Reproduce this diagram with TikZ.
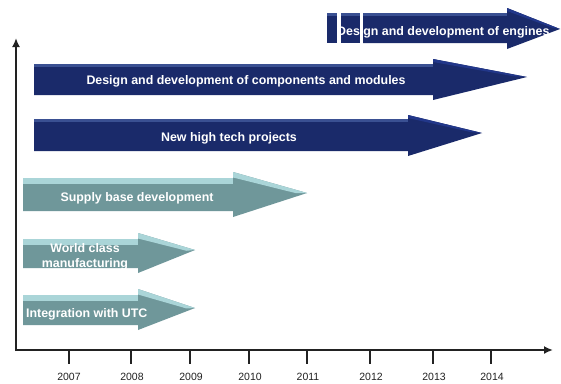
\documentclass[tikz,border=0pt]{standalone}
\usepackage{fontspec}
\setmainfont{Liberation Sans}
\usetikzlibrary{arrows.meta,calc}
\definecolor{navymain}{HTML}{1A2A6A}
\definecolor{navytop}{HTML}{3A5092}
\definecolor{navyhead}{HTML}{22378A}
\definecolor{tealmain}{HTML}{6F979A}
\definecolor{tealtop}{HTML}{AAD5D8}
\definecolor{tealhead}{HTML}{AAD5D8}
\definecolor{axisgray}{HTML}{222222}
\tikzset{
  bartext/.style={text=white, font=\fontsize{12.4}{14}\selectfont\bfseries, inner sep=0pt},
  yearlabel/.style={text=axisgray, font=\fontsize{10.5}{12}\selectfont, inner sep=0pt},
  axisline/.style={line width=2.2pt, draw=axisgray, -{Latex[length=9pt,width=8pt]}},
  tickline/.style={line width=2.4pt, draw=axisgray},
}
% thickness of the lit top face of a block arrow
\def\bevel{3}
% block arrow: left, shaft top, shaft bottom, head start, head top, head bottom, tip x, tip y, colour prefix
\newcommand\bararrow[9]{%
  \fill[#9main] (#1,#2) -- (#4,#2) -- (#4,#5) -- (#7,#8) -- (#4,#6) -- (#4,#3) -- (#1,#3) -- cycle;
  \fill[#9top] (#1,#2) -- (#4,#2) -- (#4,#2+\bevel) -- (#1,#2+\bevel) -- cycle;
  \fill[#9head] (#4,#5) -- (#7,#8) -- ($(#4,#5)!0.85!(#7,#8)+(0,\bevel*0.6)$) -- (#4,#5+\bevel) -- cycle;
}
\begin{document}
\begin{tikzpicture}[x=1pt,y=-1pt]
\useasboundingbox (0,0) rectangle (561,383);
\fill[white] (0,0) rectangle (561,383);

% engines: two short blocks and the long arrow
\fill[navymain] (327,13) rectangle (337,43);
\fill[navytop] (327,13) rectangle (337,16);
\fill[navymain] (341,13) rectangle (360,43);
\fill[navytop] (341,13) rectangle (360,16);
\bararrow{363}{13}{43}{507}{8}{49}{560}{29}{navy}
\node[bartext, anchor=west] (engines) at (337,32) {Design and development of engines};

% components and modules
\bararrow{34}{64}{95}{433}{59}{100}{527}{77}{navy}
\node[bartext] (components) at (246,81) {Design and development of components and modules};

% new high tech projects
\bararrow{34}{119}{151}{408}{115}{156}{482}{133}{navy}
\node[bartext] (hightech) at (229,138) {New high tech projects};

\def\bevel{5.5}
% supply base development
\bararrow{23}{178}{211}{233}{172}{217}{307}{193}{teal}
\node[bartext] (supply) at (137,198) {Supply base development};

% world class manufacturing
\bararrow{23}{239}{268}{138}{233}{273}{195}{250}{teal}
\node[bartext, align=center] (worldclass) at (85,257) {World class\\[1pt]manufacturing};

% integration with UTC
\bararrow{23}{295}{325}{138}{289}{330}{195}{308}{teal}
\node[bartext, anchor=west] (utc) at (26,314) {Integration with UTC};

% axes
\coordinate (ytop) at (16,38);
\coordinate (xend) at (553,350);
\draw[axisline] (16,351) -- (ytop);
\draw[axisline] (15,350) -- (xend);

% year ticks and labels
\foreach \yr/\tx/\lx in {2007/69/69, 2008/131/132, 2009/190/191, 2010/249/250, 2011/307/308, 2012/370/371, 2013/433/434, 2014/491/492} {
  \draw[tickline] (\tx,350) -- (\tx,364);
  \node[yearlabel] (y\yr) at (\lx,377) {\yr};
}
\end{tikzpicture}
\end{document}
